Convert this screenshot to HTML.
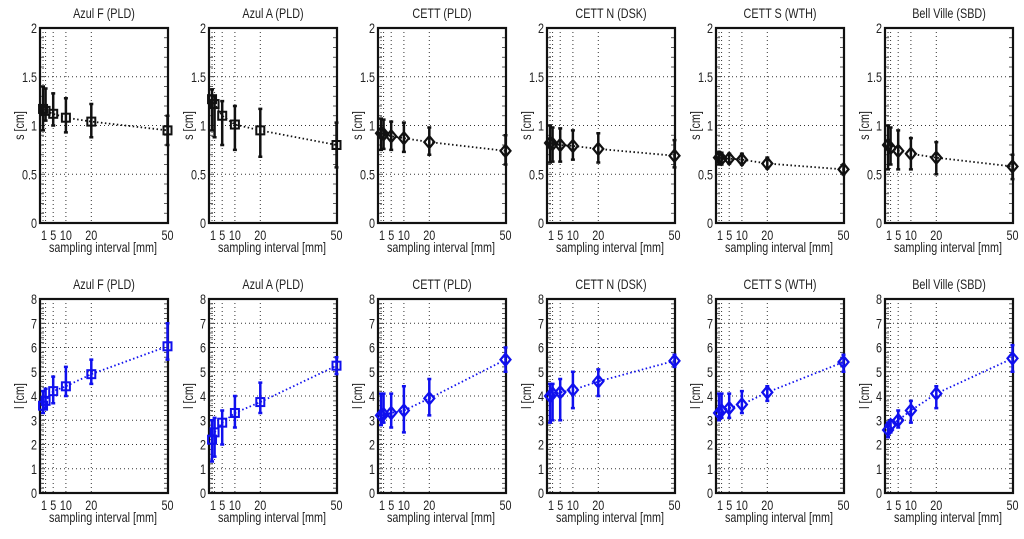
<!DOCTYPE html>
<html><head><meta charset="utf-8"><style>
body{margin:0;background:#fff;width:1024px;height:534px;overflow:hidden}
svg text{font-family:"Liberation Sans",sans-serif;fill:#222}
</style></head><body>
<svg id="c" width="1024" height="534" xmlns="http://www.w3.org/2000/svg"></svg>
<script>
const titles=["Azul F (PLD)","Azul A (PLD)","CETT (PLD)","CETT N (DSK)","CETT S (WTH)","Bell Ville (SBD)"];
const markers=["square","square","diamond","diamond","diamond","diamond"];
const xVals=[1,2,5,10,20,50];
const xTicks=[1,5,10,20,50];
const xGrid=[1,2,5,10,20,50];
const sTicks=[0,0.5,1,1.5,2];
const sTickLabels=["0","0.5","1","1.5","2"];
const lTicks=[0,1,2,3,4,5,6,7,8];
const sMean=[[1.17,1.15,1.12,1.08,1.04,0.95],[1.27,1.22,1.1,1.01,0.95,0.8],[0.92,0.91,0.89,0.87,0.83,0.74],[0.82,0.81,0.8,0.79,0.76,0.69],[0.67,0.66,0.66,0.65,0.61,0.55],[0.8,0.77,0.74,0.71,0.67,0.58]];
const sLo=[[0.95,1.05,1.0,0.93,0.88,0.8],[0.95,0.88,0.8,0.75,0.68,0.57],[0.75,0.76,0.75,0.73,0.7,0.6],[0.62,0.63,0.63,0.65,0.62,0.57],[0.6,0.6,0.61,0.6,0.56,0.5],[0.55,0.6,0.55,0.55,0.5,0.45]];
const sHi=[[1.4,1.38,1.33,1.28,1.22,1.1],[1.37,1.3,1.25,1.2,1.17,1.03],[1.07,1.06,1.04,1.03,0.98,0.9],[1.0,0.98,0.97,0.95,0.92,0.85],[0.73,0.72,0.71,0.71,0.67,0.6],[1.0,0.98,0.95,0.87,0.83,0.7]];
const lMean=[[3.6,3.8,4.2,4.4,4.9,6.05],[2.2,2.5,2.9,3.3,3.75,5.25],[3.2,3.25,3.3,3.4,3.9,5.5],[4.0,4.1,4.15,4.25,4.6,5.45],[3.3,3.4,3.5,3.65,4.15,5.4],[2.6,2.8,3.0,3.4,4.1,5.55]];
const lLo=[[3.3,3.5,3.7,4.0,4.5,5.5],[1.3,1.5,2.0,2.7,3.3,4.9],[2.8,2.9,2.7,2.5,3.2,5.0],[2.9,3.0,3.0,3.5,4.0,5.2],[3.0,3.1,3.1,3.3,3.8,5.0],[2.3,2.5,2.7,2.9,3.5,5.0]];
const lHi=[[4.2,4.3,4.8,5.2,5.5,7.0],[3.0,3.1,3.4,4.0,4.55,5.6],[4.1,4.1,4.1,4.4,4.7,6.0],[4.5,4.5,4.7,5.0,5.1,5.7],[4.1,4.1,4.1,4.2,4.4,5.7],[2.9,3.0,3.4,3.8,4.4,6.1]];

const svg=document.getElementById('c');
const NS="http://www.w3.org/2000/svg";
function mk(tag,at,parent){const e=document.createElementNS(NS,tag);for(const k in at)e.setAttribute(k,at[k]);(parent||svg).appendChild(e);return e;}
const SX=0.8;
function txt(parent,x,y,anchor,str,rot){
  const t=mk('text',{x:0,y:0,'text-anchor':anchor,'font-size':13.5,transform:`translate(${x},${y})${rot?' rotate(-90)':''} scale(${SX},1)`},parent);
  t.textContent=str;return t;
}

function panel(i,row){
  const L=40+i*169,W=128;
  const T=row===0?28:299,B=row===0?223:493;
  const yMax=row===0?2:8;
  const xs=v=>L+v/50*(W-1)+0.5;
  const ys=v=>B-v/yMax*(B-T);
  const g=mk('g',{});
  
  
  const col=row===0?'#111':'#1010ee';
  const ticks=row===0?sTicks:lTicks;
  ticks.forEach(t=>{if(t>0&&t<yMax){const l=mk('line',{x1:L,x2:L+W,y1:ys(t),y2:ys(t),stroke:'#333','stroke-width':1,'stroke-dasharray':'1,3'},g);}});
  xGrid.forEach(t=>{if(t<50){const l=mk('line',{x1:xs(t),x2:xs(t),y1:T,y2:B,stroke:'#333','stroke-width':1,'stroke-dasharray':'1,3'},g);}});
  const nm=row===0?20:40;
  for(let k=1;k<nm;k++){const y=B-k/nm*(B-T);mk('line',{x1:L,x2:L+4,y1:y,y2:y,stroke:'#333','stroke-width':0.8},g);mk('line',{x1:L+W-4,x2:L+W,y1:y,y2:y,stroke:'#333','stroke-width':0.8},g);}
  const fr=mk('rect',{x:L,y:T,width:W,height:B-T,fill:'none',stroke:'#111','stroke-width':2.2},g);
  
  ticks.forEach((t,k)=>{const tx=txt(g,L-3,ys(t)+5,'end',row===0?sTickLabels[k]:String(t));});
  xTicks.forEach(t=>{const tx=txt(g,xs(t)+(t===1?1:0),B+17,'middle',String(t));});
  const xl=txt(g,L+63,B+29,'middle','sampling interval [mm]');
  const yl=txt(g,L-16,(T+B)/2,'middle',row===0?'s [cm]':'l [cm]',true);
  const ti=txt(g,L+W/2,T-10,'middle',titles[i]);
  const m=row===0?sMean[i]:lMean[i],lo=row===0?sLo[i]:lLo[i],hi=row===0?sHi[i]:lHi[i];
  const pl=mk('polyline',{points:xVals.map((x,k)=>xs(x)+','+ys(m[k])).join(' '),fill:'none',stroke:col,'stroke-width':1.8,'stroke-dasharray':'1.5,2.5'},g);
  
  xVals.forEach((x,k)=>{
    const cx=xs(x),cy=ys(m[k]);
    const eb=mk('path',{d:`M${cx},${ys(lo[k])}V${ys(hi[k])}M${cx-2},${ys(lo[k])}h4M${cx-2},${ys(hi[k])}h4`,stroke:col,'stroke-width':2.5,fill:'none'},g);
    
    let mkr;
    if(markers[i]==='square')mkr=mk('rect',{x:cx-4,y:cy-4,width:8,height:8,fill:'none',stroke:col,'stroke-width':2},g);
    else mkr=mk('path',{d:`M${cx},${cy-6}L${cx+5},${cy}L${cx},${cy+6}L${cx-5},${cy}Z`,fill:'none',stroke:col,'stroke-width':2.2},g);
    
  });
}
for(let i=0;i<6;i++){panel(i,0);panel(i,1);}
</script>
</body></html>
